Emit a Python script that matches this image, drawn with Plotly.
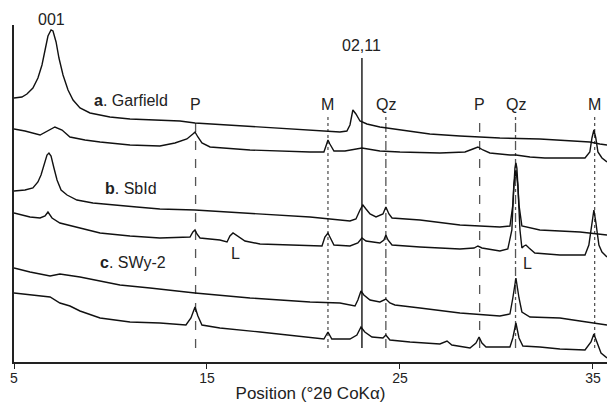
import plotly.graph_objects as go

# ---- Data (2theta in degrees, offset intensity in arbitrary units) ----
# a. Garfield (upper pattern)
a1_x = [5.00, 5.41, 5.67, 5.98, 6.24, 6.45, 6.61, 6.76, 6.92, 7.02, 7.18, 7.33, 7.54, 7.80, 8.06, 8.42,
        8.94, 9.97, 11.01, 12.56, 13.60, 14.38, 16.19, 17.75, 20.34, 21.89, 22.25, 22.41, 22.56, 22.72,
        22.93, 23.29, 23.96, 25.00, 26.55, 28.11, 30.18, 32.25, 33.81, 34.84, 35.36, 35.73]
a1_y = [264, 265, 268, 274, 284, 297, 312, 326, 332, 331, 320, 304, 287, 272, 262, 254,
        249, 245, 243, 242, 241, 239, 237, 235, 232, 230, 231, 237, 252, 248,
        241, 238, 235, 232, 228, 226, 224, 223, 221, 220, 218, 217]
# a. Garfield (lower pattern)
a2_x = [5.00, 5.57, 6.35, 6.76, 7.12, 7.49, 7.90, 8.68, 9.46, 11.01, 12.56, 13.34, 13.96, 14.27, 14.38,
        14.53, 14.74, 15.16, 17.23, 20.34, 21.06, 21.22, 21.27, 21.37, 21.58, 22.15, 22.67, 23.03, 23.96,
        25.00, 27.07, 28.37, 28.78, 29.04, 29.30, 29.66, 30.70, 31.01, 31.74, 32.51, 34.59, 34.84, 34.95,
        35.05, 35.15, 35.26, 35.47, 35.73]
a2_y = [233, 231, 227, 231, 235, 232, 225, 222, 220, 217, 216, 219, 223, 228, 230,
        225, 219, 215, 212, 210, 210, 219, 222, 218, 211, 211, 213, 214, 211,
        210, 209, 210, 213, 215, 212, 209, 207, 207, 205, 204, 204, 210, 224,
        232, 224, 210, 204, 200]
# b. SbId (upper pattern)
b1_x = [5.00, 5.57, 5.98, 6.24, 6.40, 6.55, 6.71, 6.81, 6.92, 7.07, 7.23, 7.44, 7.75, 8.26, 9.09, 11.36,
        12.56, 14.38, 17.23, 20.34, 22.41, 22.72, 22.93, 23.08, 23.24, 23.45, 23.76, 24.12, 24.27, 24.43,
        24.59, 26.04, 28.11, 30.18, 30.70, 30.85, 30.96, 31.01, 31.06, 31.17, 31.32, 32.25, 34.33, 35.73]
b1_y = [171, 172, 174, 180, 187, 197, 207, 209, 206, 194, 182, 172, 167, 162, 159, 155,
        153, 152, 149, 145, 141, 143, 152, 157, 153, 148, 145, 148, 155, 148,
        144, 142, 137, 135, 136, 157, 194, 199, 194, 157, 136, 132, 130, 127]
# b. SbId (lower pattern)
b2_x = [5.00, 5.83, 6.35, 6.61, 6.76, 6.97, 7.38, 8.42, 9.46, 11.01, 12.56, 14.12, 14.27, 14.38, 14.48,
        14.64, 15.67, 16.04, 16.19, 16.35, 16.50, 16.97, 17.75, 20.34, 20.96, 21.11, 21.27, 21.37, 21.58,
        22.41, 22.82, 23.03, 23.24, 23.96, 24.17, 24.27, 24.38, 24.59, 26.04, 28.11, 28.84, 29.04, 29.25,
        30.18, 30.59, 30.80, 30.90, 31.01, 31.11, 31.22, 31.32, 31.43, 31.53, 31.69, 31.99, 33.29, 34.59,
        34.79, 34.95, 35.05, 35.15, 35.31, 35.47, 35.73]
b2_y = [149, 145, 144, 146, 150, 144, 139, 134, 129, 126, 124, 125, 130, 132, 128,
        124, 122, 120, 126, 129, 127, 121, 118, 116, 116, 125, 129, 125, 117,
        116, 119, 124, 121, 119, 122, 127, 122, 117, 115, 113, 114, 116, 114,
        111, 113, 132, 177, 192, 177, 132, 114, 116, 117, 114, 109, 107, 107,
        117, 140, 152, 140, 117, 110, 105]
# c. SWy-2 (upper pattern)
c1_x = [5.00, 5.83, 6.87, 7.38, 8.42, 9.46, 10.49, 12.05, 14.38, 17.23, 20.34, 21.89, 22.67, 22.82, 22.98,
        23.13, 23.45, 23.96, 24.27, 24.48, 24.74, 26.04, 28.11, 30.18, 30.70, 30.85, 31.01, 31.17, 31.32,
        31.74, 33.29, 34.33, 35.73]
c1_y = [94, 90, 86, 88, 85, 81, 77, 74, 69, 64, 60, 59, 56, 62, 71,
        67, 62, 60, 63, 59, 57, 54, 49, 46, 48, 64, 84, 64, 50,
        45, 44, 41, 37]
# c. SWy-2 (lower pattern)
c2_x = [5.00, 5.83, 6.87, 7.38, 7.90, 8.42, 9.46, 11.01, 12.56, 13.91, 14.17, 14.38, 14.53, 14.74, 15.67,
        17.75, 20.34, 21.06, 21.27, 21.47, 22.41, 22.77, 22.98, 23.18, 23.55, 24.12, 24.27, 24.48, 25.52,
        27.07, 27.44, 27.69, 28.63, 28.94, 29.10, 29.25, 29.46, 30.70, 30.85, 31.01, 31.17, 31.37, 32.25,
        33.29, 34.59, 34.90, 35.05, 35.21, 35.42, 35.73]
c2_y = [69, 67, 65, 59, 56, 51, 44, 40, 39, 37, 44, 55, 46, 37, 34,
        30, 25, 23, 30, 23, 23, 27, 35, 30, 25, 24, 27, 22, 20,
        18, 21, 17, 14, 19, 25, 19, 15, 15, 24, 39, 24, 16, 15,
        13, 12, 20, 28, 20, 9, 4]

# Reference reflections
ref_pos = [14.41, 21.27, 23.03, 24.27, 29.13, 30.99, 35.09]
ref_lab = ["P", "M", "02,11", "Qz", "P", "Qz", "M"]
ref_dash = ["dash", "dot", "solid", "dashdot", "dash", "dashdot", "dot"]

tick_vals = [5, 15, 25, 35]
tick_text = ["5", "15", "25", "35"]

FONT = "Liberation Sans, Arial, Helvetica, sans-serif"
TXT = "#222222"

fig = go.Figure()

# reference lines (behind patterns)
for pos, lab, dsh in zip(ref_pos, ref_lab, ref_dash):
    solid = dsh == "solid"
    fig.add_shape(type="line", xref="x", yref="y", x0=pos, x1=pos,
                  y0=14, y1=304 if solid else 247,
                  line=dict(color="#222222" if solid else "#555555",
                            width=1.5 if solid else 1.3, dash=dsh),
                  layer="below")
    fig.add_annotation(x=pos, y=317 if solid else 258, text=lab, showarrow=False,
                       xref="x", yref="y", xanchor="center", yanchor="middle",
                       font=dict(family=FONT, size=16, color=TXT))

for xs, ys in [(a1_x, a1_y), (a2_x, a2_y), (b1_x, b1_y), (b2_x, b2_y), (c1_x, c1_y), (c2_x, c2_y)]:
    fig.add_trace(go.Scatter(x=xs, y=ys, mode="lines",
                             line=dict(color="#111111", width=1.4),
                             showlegend=False, hoverinfo="skip"))

labels = [
    (11.06, 262, "<b>a</b>. Garfield"),
    (11.06, 174, "<b>b</b>. SbId"),
    (11.17, 100, "<b>c</b>. SWy-2"),
    (16.50, 109, "L"),
    (31.63, 99, "L"),
]
for x, y, t in labels:
    fig.add_annotation(x=x, y=y, text=t, showarrow=False, xref="x", yref="y",
                       xanchor="center", yanchor="middle",
                       font=dict(family=FONT, size=16, color=TXT))

# label of the basal reflection sits above the plotting area
fig.add_annotation(x=6.92, y=1.015, text="001", showarrow=False, xref="x", yref="paper",
                   xanchor="center", yanchor="middle",
                   font=dict(family=FONT, size=16, color=TXT))

fig.update_layout(
    width=607, height=403,
    margin=dict(l=14, r=0, t=25, b=41),
    paper_bgcolor="white", plot_bgcolor="white",
    showlegend=False,
    xaxis=dict(range=[5, 35.73], showgrid=False, zeroline=False,
               showline=True, linecolor="#222222", linewidth=1.5,
               ticks="outside", ticklen=5, tickcolor="#222222", tickwidth=1.3,
               tickvals=tick_vals, ticktext=tick_text, ticklabelstandoff=-3,
               tickfont=dict(family=FONT, size=14, color=TXT),
               title=dict(text="Position (°2θ CoKα)", standoff=6,
                          font=dict(family=FONT, size=17, color=TXT))),
    yaxis=dict(range=[0, 337], showgrid=False, zeroline=False,
               showline=True, linecolor="#222222", linewidth=1.5,
               showticklabels=False, ticks=""),
)

fig.write_html("out.html", config={"displayModeBar": False})
